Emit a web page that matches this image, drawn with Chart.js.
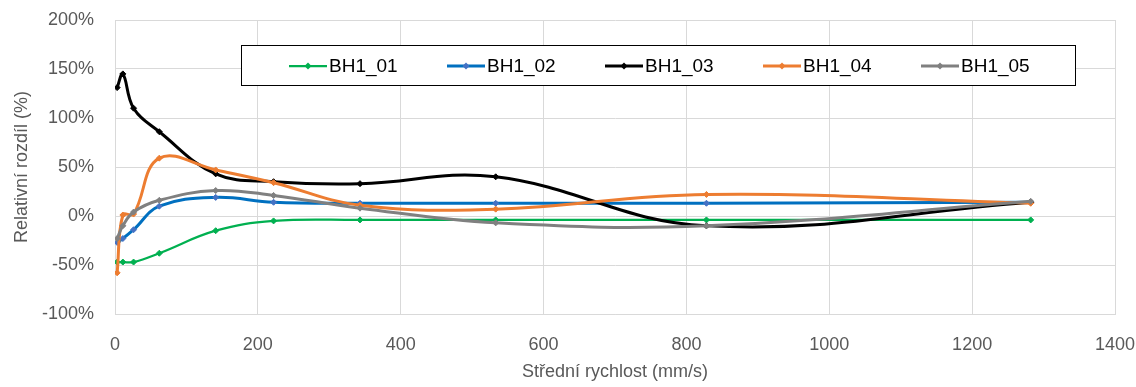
<!DOCTYPE html>
<html>
<head>
<meta charset="utf-8">
<script src="https://cdn.jsdelivr.net/npm/chart.js@4.4.1/dist/chart.umd.min.js"></script>
<style>
    html, body { margin: 0; padding: 0; background: #fff; }
    #chart { display: block; }
</style>
</head>
<body>
<canvas id="chart" width="1136" height="387"></canvas>
<script>
// mean speed (mm/s), shared by all series
const speeds = [3, 11, 26, 62, 141, 222, 343, 533, 828, 1282];

// relative difference (%)
const bh1_01 = [-47, -47, -47, -38, -15, -5, -4, -4, -4, -4];
const bh1_02 = [-27, -23, -14, 10, 19, 14, 13, 13, 13, 14];
const bh1_03 = [131, 145, 110, 86, 43, 35, 33, 40, -10, 14];
const bh1_04 = [-58, 1, 2, 59, 47, 34, 11, 7, 22, 13];
const bh1_05 = [-23, -10, 4, 16, 26, 21, 8, -7, -10, 15];

const seriesNames = ['BH1_01', 'BH1_02', 'BH1_03', 'BH1_04', 'BH1_05'];
const seriesValues = [bh1_01, bh1_02, bh1_03, bh1_04, bh1_05];
const lineColors = ['#00b050', '#0070c0', '#000000', '#ed7d31', '#808080'];
const markerColors = ['#00b050', '#4472c4', '#000000', '#ed7d31', '#808080'];
const lineWidths = [2.25, 3, 3, 3, 3];

const xTicks = [0, 200, 400, 600, 800, 1000, 1200, 1400];
const yTicks = [-100, -50, 0, 50, 100, 150, 200];

const FONT = "'Liberation Sans', Arial, sans-serif";
const GRID = '#d9d9d9';
const TEXT = '#595959';

// legend drawn inside the plot, like the Excel box
const boxLegend = {
    id: 'boxLegend',
    afterDraw(chart) {
        const ctx = chart.ctx;
        ctx.save();
        ctx.fillStyle = '#fff';
        ctx.fillRect(241.5, 45.5, 834, 40);
        ctx.strokeStyle = '#000';
        ctx.lineWidth = 1;
        ctx.strokeRect(241.5, 45.5, 834, 40);
        ctx.font = '19px ' + FONT;
        ctx.textBaseline = 'middle';
        chart.data.datasets.forEach((ds, i) => {
            const x0 = 289 + i * 158;
            const y = 66;
            ctx.strokeStyle = ds.borderColor;
            ctx.lineWidth = ds.borderWidth;
            ctx.beginPath();
            ctx.moveTo(x0, y);
            ctx.lineTo(x0 + 38, y);
            ctx.stroke();
            ctx.fillStyle = ds.pointBackgroundColor;
            ctx.beginPath();
            ctx.moveTo(x0 + 19, y - 3.5);
            ctx.lineTo(x0 + 22.5, y);
            ctx.lineTo(x0 + 19, y + 3.5);
            ctx.lineTo(x0 + 15.5, y);
            ctx.closePath();
            ctx.fill();
            ctx.fillStyle = '#000';
            ctx.fillText(ds.label, x0 + 40, y + 1);
        });
        ctx.restore();
    }
};

const datasets = seriesNames.map((name, i) => ({
    label: name,
    data: speeds.map((s, j) => ({ x: s, y: seriesValues[i][j] })),
    borderColor: lineColors[i],
    backgroundColor: lineColors[i],
    borderWidth: lineWidths[i],
    pointStyle: 'rectRot',
    pointRadius: 3,
    pointBorderWidth: 1,
    pointBackgroundColor: markerColors[i],
    pointBorderColor: markerColors[i],
    tension: 0.4,
    fill: false,
    order: 4 - i
}));

const ctx = document.getElementById('chart').getContext('2d');
new Chart(ctx, {
    type: 'line',
    data: { datasets },
    plugins: [boxLegend],
    options: {
        responsive: false,
        animation: false,
        layout: { padding: { top: 20, right: 21, bottom: 0, left: 0 } },
        plugins: {
            legend: { display: false },
            tooltip: { enabled: false }
        },
        scales: {
            x: {
                type: 'linear',
                min: 0,
                max: 1400,
                afterBuildTicks: scale => { scale.ticks = xTicks.map(v => ({ value: v })); },
                afterFit: scale => {
                    scale.height = 73;
                    scale.paddingLeft = 0;
                    scale.paddingRight = 0;
                },
                grid: { color: GRID, lineWidth: 1, drawTicks: false },
                border: { color: GRID },
                ticks: {
                    color: TEXT,
                    font: { family: FONT, size: 18 },
                    padding: 20,
                    maxRotation: 0,
                    callback: v => String(v)
                },
                title: {
                    display: true,
                    text: 'Střední rychlost (mm/s)',
                    color: TEXT,
                    font: { family: FONT, size: 18 },
                    padding: { top: 0, bottom: 4 }
                }
            },
            y: {
                min: -100,
                max: 200,
                afterBuildTicks: scale => { scale.ticks = yTicks.map(v => ({ value: v })); },
                afterFit: scale => {
                    scale.width = 115;
                    scale.paddingTop = 0;
                    scale.paddingBottom = 0;
                },
                grid: { color: GRID, lineWidth: 1, drawTicks: false },
                border: { color: GRID },
                ticks: {
                    color: TEXT,
                    font: { family: FONT, size: 18 },
                    padding: 21,
                    callback: v => v + '%'
                },
                title: {
                    display: true,
                    text: 'Relativní rozdíl (%)',
                    color: TEXT,
                    font: { family: FONT, size: 18 },
                    padding: { top: 11, bottom: 0 }
                }
            }
        }
    }
});
</script>
</body>
</html>
